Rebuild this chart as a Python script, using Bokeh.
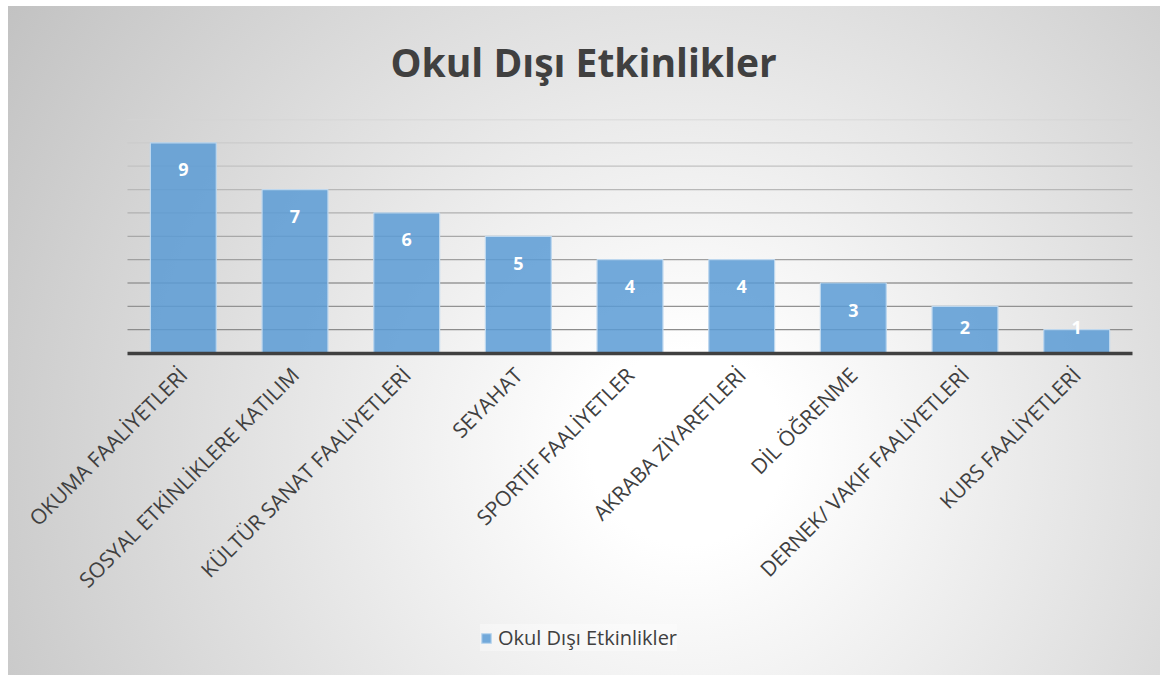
import math
from bokeh.plotting import figure
from bokeh.models import ColumnDataSource, Legend, LegendItem, FixedTicker
from bokeh.core.properties import value
from bokeh.embed import file_html
from bokeh.resources import INLINE

categories = ["OKUMA FAALİYETLERİ", "SOSYAL ETKİNLİKLERE KATILIM", "KÜLTÜR SANAT FAALİYETLERİ",
              "SEYAHAT", "SPORTİF FAALİYETLER", "AKRABA ZİYARETLERİ", "DİL ÖĞRENME",
              "DERNEK/ VAKIF FAALİYETLERİ", "KURS FAALİYETLERİ"]
counts = [9, 7, 6, 5, 4, 4, 3, 2, 1]
grid_levels = [1, 2, 3, 4, 5, 6, 7, 8, 9, 10]
grid_colors = ["#8c8c8c", "#929292", "#999999", "#a0a0a0", "#a8a8a8",
               "#b0b0b0", "#b8b8b8", "#c2c2c2", "#cbcbcb", "#d4d4d4"]

FONT = "Open Sans"
W, H = 1160, 675
TOP = 118                      # frame top (px)
PLOT_L, PLOT_R = 127, 1132     # plot area horizontal extent (px)
ZERO_Y = 352                   # pixel row of value 0
n = len(categories)
px_per_cat = (PLOT_R - PLOT_L) / n
px_per_unit = (ZERO_Y - TOP) / 10.0
frame_h = H - TOP
x_start = -0.5 - PLOT_L / px_per_cat
x_end = x_start + W / px_per_cat
y_start = -(frame_h - (ZERO_Y - TOP)) / px_per_unit

xs = list(range(n))
label_offsets = [min(27, max(-3, v * px_per_unit - 26)) for v in counts]

src = ColumnDataSource(dict(x=xs, val=counts, lbl=[str(v) for v in counts], off=label_offsets))
gsrc = ColumnDataSource(dict(y=grid_levels, c=grid_colors))

p = figure(x_range=(x_start, x_end), y_range=(y_start, 10), width=W, height=H,
           output_backend="svg", toolbar_location=None,
           min_border_left=0, min_border_right=0, min_border_top=TOP, min_border_bottom=0)

p.styles = {"background": "radial-gradient(circle at 59% 66%, #ffffff 0%, #ffffff 12%, #c2c2c2 100%) 8px 6px / 1152px 669px no-repeat, #ffffff"}
p.border_fill_color = None
p.background_fill_color = None
p.outline_line_color = None

p.xgrid.grid_line_color = None
p.ygrid.grid_line_color = None

p.segment(x0=-0.5, x1=n - 0.5, y0="y", y1="y", line_color="c", line_width=1.3, source=gsrc)

r = p.vbar(x="x", top="val", bottom=0, width=0.59, source=src, fill_color="#5b9bd5", fill_alpha=0.85,
           line_color="#bdd7ee", line_width=1.2)

p.text(x="x", y="val", text="lbl", source=src, y_offset="off",
       text_align="center", text_baseline="middle", text_color="white",
       text_font=value(FONT), text_font_style="bold", text_font_size="18px")

p.yaxis.visible = False
xa = p.xaxis[0]
xa.fixed_location = 0
xa.bounds = (-0.5, n - 0.5)
xa.ticker = FixedTicker(ticks=xs)
xa.major_label_overrides = {i: c for i, c in zip(xs, categories)}
xa.axis_line_color = "#404040"
xa.axis_line_width = 3.5
xa.major_tick_line_color = None
xa.minor_tick_line_color = None
xa.major_label_orientation = math.pi / 4
xa.major_label_text_font = FONT
xa.major_label_text_font_size = "21px"
xa.major_label_text_color = "#404040"
xa.major_label_standoff = 12

p.title.text = "Okul Dışı Etkinlikler"
p.title.align = "left"
p.title.offset = 390
p.title.standoff = 64
p.title.text_font = FONT
p.title.text_font_style = "bold"
p.title.text_font_size = "39px"
p.title.text_color = "#404040"

legend = Legend(items=[LegendItem(label="Okul Dışı Etkinlikler", renderers=[r])],
                location=(480, 24), orientation="horizontal", margin=0,
                label_text_font=FONT, label_text_font_size="20px", label_text_color="#404040",
                glyph_width=12, glyph_height=12, label_standoff=6, padding=12,
                background_fill_color="#ffffff", background_fill_alpha=0.35,
                border_line_color=None)
p.add_layout(legend, "center")

open("out.html", "w").write(file_html(p, INLINE))
